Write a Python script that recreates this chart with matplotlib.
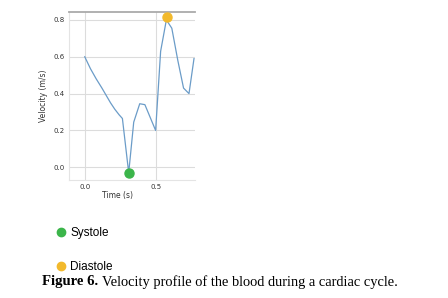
import matplotlib.pyplot as plt
from matplotlib.lines import Line2D

# velocity profile
time = [0.0, 0.04, 0.08, 0.12, 0.15, 0.18, 0.21, 0.24, 0.263, 0.307, 0.342, 0.384,
        0.42, 0.495, 0.53, 0.57, 0.608, 0.65, 0.69, 0.728, 0.763]
velocity = [0.60, 0.535, 0.48, 0.43, 0.39, 0.35, 0.315, 0.285, 0.265, -0.03, 0.245, 0.345,
            0.34, 0.20, 0.63, 0.80, 0.755, 0.58, 0.43, 0.40, 0.59]

systole = (0.307, -0.033)
diastole = (0.577, 0.815)
labels = ['Systole', 'Diastole']

fig = plt.figure(figsize=(4.48, 2.98), dpi=100)
ax = fig.add_axes([69 / 448, 1 - 180 / 298, 126 / 448, 168 / 298])

ax.plot(time, velocity, color='#6b9cc8', lw=0.9, zorder=2)
ax.plot(*systole, 'o', color='#3bb54a', ms=6.5, zorder=3)
ax.plot(*diastole, 'o', color='#f2b92c', ms=6.5, zorder=3)

ax.set_xlim(-0.11, 0.77)
ax.set_ylim(-0.069, 0.843)
ax.set_xticks([0.0, 0.5])
ax.set_yticks([0.0, 0.2, 0.4, 0.6, 0.8])
ax.grid(True, color='#dcdcdc', lw=0.8)
ax.set_axisbelow(True)
ax.tick_params(length=0, labelsize=5, colors='#333333', pad=3)
for side in ['left', 'right', 'bottom']:
    ax.spines[side].set_color('#e4e4e4')
    ax.spines[side].set_linewidth(0.8)
ax.spines['right'].set_visible(False)
ax.spines['top'].set_color('#aaaaaa')
ax.spines['top'].set_linewidth(1.3)

ax.set_xlabel('Time (s)', fontsize=5.5, color='#333333')
ax.xaxis.set_label_coords(0.385, -0.065)
ax.set_ylabel('Velocity (m/s)', fontsize=5.5, color='#333333', labelpad=4)

# legend below the chart
handles = [Line2D([], [], marker='o', ls='', color='#3bb54a', ms=6),
           Line2D([], [], marker='o', ls='', color='#f2b92c', ms=6)]
fig.legend(handles, labels, loc='upper left',
           bbox_to_anchor=(56 / 448, 1 - 227 / 298), frameon=False,
           borderpad=0, borderaxespad=0, labelspacing=1.9,
           handlelength=0.8, handletextpad=0.42,
           prop={'family': 'Liberation Sans', 'size': 8.5})

fig.text(42 / 448, 1 - 282 / 298, 'Figure 6.', fontsize=10.6, fontweight='bold',
         family='Liberation Serif', va='center')
fig.text(102 / 448, 1 - 282 / 298, 'Velocity profile of the blood during a cardiac cycle.',
         fontsize=10.4, family='Liberation Serif', va='center')

fig.savefig('out.png', dpi=100)
